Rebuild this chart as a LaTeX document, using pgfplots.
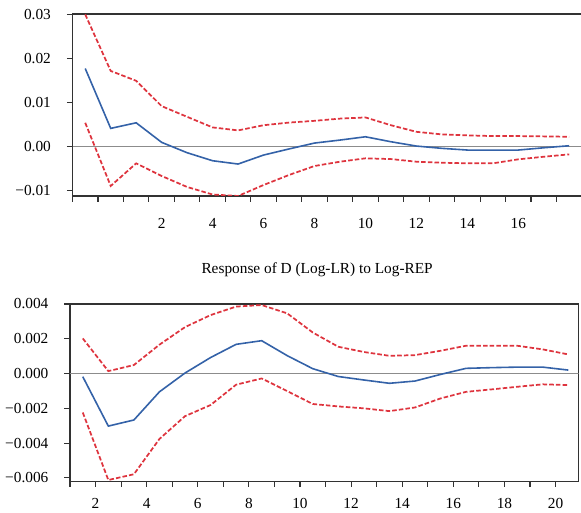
\documentclass[border=0pt]{standalone}
\usepackage{pgfplots}
\pgfplotsset{compat=1.18}
\usepackage{fontspec}
\setmainfont{Liberation Serif}
\definecolor{irfblue}{RGB}{52,98,168}
\definecolor{irfred}{RGB}{222,52,62}
\definecolor{zerogray}{RGB}{140,140,140}
\definecolor{framegray}{RGB}{50,50,50}

\pgfplotstableread{
x y
-1 0.0178
0 0.00418
1 0.00545
2 0.0010
3 -0.00136
4 -0.00318
5 -0.00393
6 -0.00189
7 -0.0005
8 0.00084
9 0.00152
10 0.00227
11 0.00114
12 0.00016
13 -0.00036
14 -0.00075
15 -0.00075
16 -0.00075
17 -0.00023
18 0.00023
}\topmid
\pgfplotstableread{
x y
-1 0.0301
0 0.01725
1 0.0150
2 0.00924
3 0.00681
4 0.0044
5 0.00372
6 0.0049
7 0.0055
8 0.0059
9 0.0064
10 0.00667
11 0.0049
12 0.0034
13 0.00281
14 0.00259
15 0.00243
16 0.00243
17 0.00236
18 0.00227
}\topup
\pgfplotstableread{
x y
-1 0.00545
0 -0.00892
1 -0.00377
2 -0.00665
3 -0.00915
4 -0.01086
5 -0.0112
6 -0.0087
7 -0.00642
8 -0.00438
9 -0.0034
10 -0.00263
11 -0.0028
12 -0.0034
13 -0.00363
14 -0.00377
15 -0.00377
16 -0.00286
17 -0.00227
18 -0.00173
}\toplow
\pgfplotstableread{
x y
1.5 -0.00018
2.5 -0.00302
3.5 -0.00267
4.5 -0.00105
5.5 0.00003
6.5 0.00092
7.5 0.00168
8.5 0.00189
9.5 0.00103
10.5 0.00028
11.5 -0.00017
12.5 -0.00037
13.5 -0.00056
14.5 -0.00043
15.5 -0.00005
16.5 0.0003
17.5 0.00034
18.5 0.00037
19.5 0.00037
20.5 0.0002
}\botmid
\pgfplotstableread{
x y
1.5 0.00202
2.5 0.00014
3.5 0.00049
4.5 0.00166
5.5 0.00267
6.5 0.00336
7.5 0.00385
8.5 0.00394
9.5 0.00346
10.5 0.00236
11.5 0.00154
12.5 0.00124
13.5 0.00102
14.5 0.00106
15.5 0.00131
16.5 0.0016
17.5 0.0016
18.5 0.0016
19.5 0.00139
20.5 0.0011
}\botup
\pgfplotstableread{
x y
1.5 -0.00224
2.5 -0.00612
3.5 -0.00579
4.5 -0.00376
5.5 -0.00245
6.5 -0.00181
7.5 -0.00064
8.5 -0.00028
9.5 -0.00101
10.5 -0.00175
11.5 -0.00189
12.5 -0.002
13.5 -0.00216
14.5 -0.00195
15.5 -0.00143
16.5 -0.00105
17.5 -0.00091
18.5 -0.00076
19.5 -0.00062
20.5 -0.00066
}\botlow

\pgfplotsset{
  irf/.style={
    scale only axis,
    axis line style={framegray, line width=0.9pt},
    tick style={framegray, line width=0.8pt},
    tick align=outside,
    major tick length=4.2pt,
    minor tick length=4.2pt,
    scaled ticks=false,
    /pgf/number format/assume math mode=true,
    tick label style={font=\fontsize{11.5}{13}\selectfont, text=black},
    xtick pos=bottom, ytick pos=left,
    yticklabel style={xshift=-8.5pt},
    xticklabel style={yshift=-5pt},
    clip=true,
  },
  mid/.style={irfblue, line width=1.2pt, mark=none},
  band/.style={irfred, line width=1.3pt, mark=none, dash pattern=on 3.4pt off 1.6pt},
  zl/.style={zerogray, line width=0.7pt, mark=none},
}

\begin{document}
\begin{tikzpicture}
\useasboundingbox (0pt,0pt) rectangle (435.75pt,384.75pt);
% top panel
\begin{axis}[irf,
  at={(54.375pt,237.75pt)}, anchor=south west,
  width=384pt, height=136.5pt,
  xmin=-1.5, xmax=18.6,
  ymin=-0.0112, ymax=0.0302,
  xtick={-1.5,-0.5,...,17.5}, xticklabels={},
  extra x ticks={2,4,...,16},
  extra x tick labels={2,4,6,8,10,12,14,16},
  extra x tick style={major tick length=0pt, xticklabel style={yshift=-8pt}},
  ytick={-0.01,0,0.01,0.02,0.03},
  yticklabels={−0.01,0.00,0.01,0.02,0.03},
]
\addplot[zl] coordinates {(-1.5,0) (18.6,0)};
\addplot[band] table[x=x,y=y] {\topup};
\addplot[band] table[x=x,y=y] {\toplow};
\addplot[mid] table[x=x,y=y] {\topmid};
\end{axis}
% bottom panel
\begin{axis}[irf,
  at={(52.5pt,23.7pt)}, anchor=south west,
  width=381.4pt, height=133.05pt,
  xmin=1, xmax=20.9,
  ymin=-0.0062, ymax=0.004,
  xtick={2,4,...,20},
  minor xtick={1,3,...,19},
  ytick={-0.006,-0.004,-0.002,0,0.002,0.004},
  yticklabels={−0.006,−0.004,−0.002,0.000,0.002,0.004},
  title={Response of D (Log-LR) to Log-REP},
  title style={font=\fontsize{11.5}{13}\selectfont, anchor=base, at={(axis description cs:0.486,1)}, yshift=17pt},
]
\addplot[zl] coordinates {(1,0) (20.9,0)};
\addplot[band] table[x=x,y=y] {\botup};
\addplot[band] table[x=x,y=y] {\botlow};
\addplot[mid] table[x=x,y=y] {\botmid};
\end{axis}
\end{tikzpicture}
\end{document}
